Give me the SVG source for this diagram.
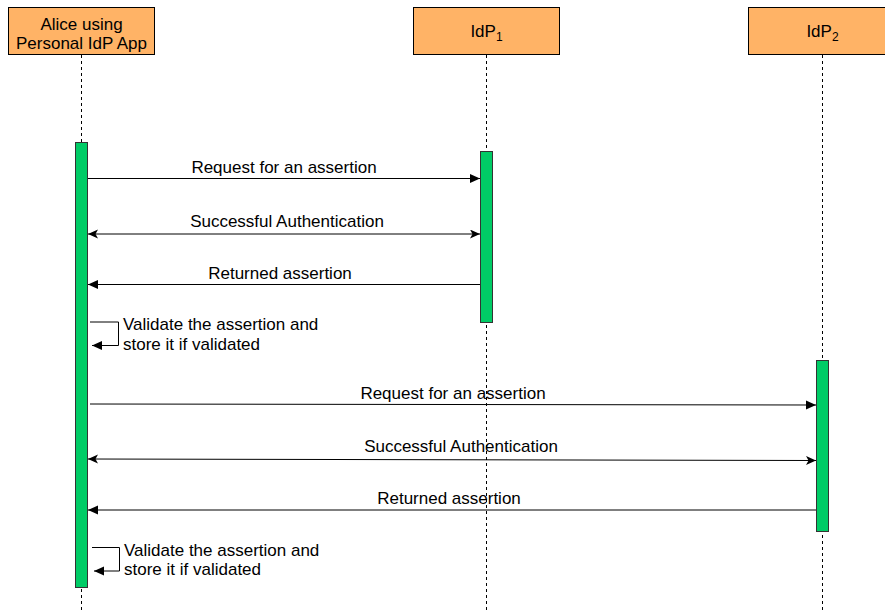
<svg xmlns="http://www.w3.org/2000/svg" width="885" height="610" viewBox="0 0 885 610">
<defs>
<style>
.box{fill:#FFB366;stroke:#000;stroke-width:1}
.act{fill:#00CC66;stroke:#333;stroke-width:1}
.life{stroke:#000;stroke-width:1;stroke-dasharray:3,3;fill:none}
.msg{stroke:#000;stroke-width:1;fill:none}
text{font-family:"Liberation Sans",Arial,Helvetica,sans-serif;font-size:17px;fill:#000}
.c{text-anchor:middle}
</style>
<marker id="ah" markerWidth="11" markerHeight="10" refX="10" refY="4.5" orient="auto" markerUnits="userSpaceOnUse">
<path d="M0,0 L10,4.5 L0,9 Z" fill="#000"/>
</marker>
<marker id="ahs" markerWidth="11" markerHeight="10" refX="10" refY="4.5" orient="auto-start-reverse" markerUnits="userSpaceOnUse">
<path d="M0,0 L10,4.5 L0,9 L2.5,4.5 Z" fill="#000"/>
</marker>
</defs>
<g id="lifelines">
<line class="life" x1="81.5" y1="55" x2="81.5" y2="610"/>
<line class="life" x1="486.5" y1="55" x2="486.5" y2="610"/>
<line class="life" x1="822.5" y1="55" x2="822.5" y2="610"/>
</g>
<g id="alice">
<rect class="box" x="8.5" y="7.5" width="146" height="47"/>
<text class="c" x="81.5" y="30">Alice using</text>
<text class="c" x="81.5" y="49">Personal IdP App</text>
<rect class="act" x="75.5" y="142.5" width="12" height="445"/>
</g>
<g id="idp1">
<rect class="box" x="413.5" y="7.5" width="146" height="47"/>
<text class="c" x="486.5" y="37">IdP<tspan font-size="12" dy="4">1</tspan></text>
<rect class="act" x="480.5" y="151.5" width="12" height="171"/>
</g>
<g id="idp2">
<rect class="box" x="748.5" y="7.5" width="146" height="47"/>
<text class="c" x="822.5" y="37">IdP<tspan font-size="12" dy="4">2</tspan></text>
<rect class="act" x="816.5" y="360.5" width="12" height="171"/>
</g>
<g id="connectors">
<line class="msg" x1="88" y1="178.5" x2="480" y2="178.5" marker-end="url(#ah)"/>
<text class="c" x="284" y="173">Request for an assertion</text>
<line class="msg" x1="88" y1="234" x2="480" y2="234" marker-start="url(#ahs)" marker-end="url(#ahs)"/>
<text class="c" x="287" y="227">Successful Authentication</text>
<line class="msg" x1="480" y1="284.5" x2="88" y2="284.5" marker-end="url(#ah)"/>
<text class="c" x="280" y="279">Returned assertion</text>
<polyline class="msg" points="90,322 118.5,322 118.5,345.5 92,345.5" marker-end="url(#ah)"/>
<text x="123" y="330">Validate the assertion and</text>
<text x="123" y="350">store it if validated</text>
<line class="msg" x1="90" y1="404" x2="816" y2="405" marker-end="url(#ah)"/>
<text class="c" x="453" y="399">Request for an assertion</text>
<line class="msg" x1="88" y1="459" x2="816" y2="460.5" marker-start="url(#ahs)" marker-end="url(#ahs)"/>
<text class="c" x="461" y="452">Successful Authentication</text>
<line class="msg" x1="816" y1="510" x2="88" y2="510" marker-end="url(#ah)"/>
<text class="c" x="449" y="504">Returned assertion</text>
<polyline class="msg" points="92,547.5 119.5,547.5 119.5,571 94,571" marker-end="url(#ah)"/>
<text x="124" y="556">Validate the assertion and</text>
<text x="124" y="575">store it if validated</text>
</g>
</svg>
